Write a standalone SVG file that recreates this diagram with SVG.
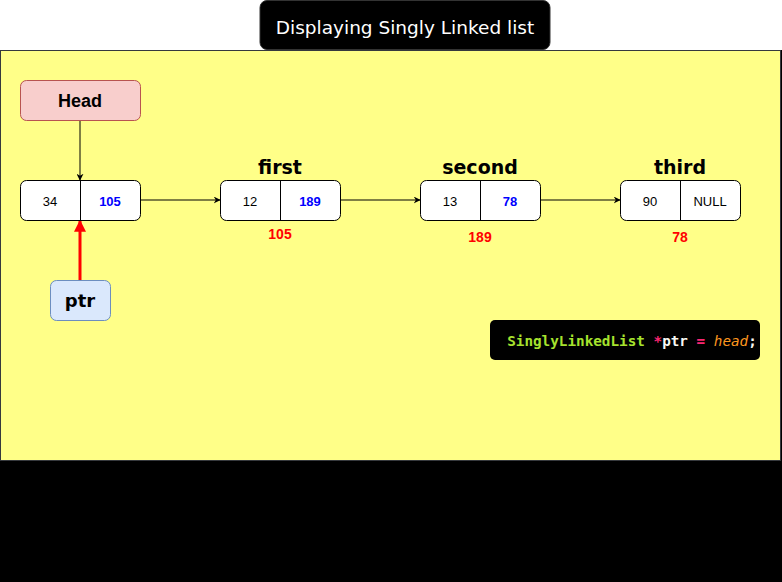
<svg xmlns="http://www.w3.org/2000/svg" width="782" height="582" viewBox="0 0 782 582">
  <defs>
    <marker id="arr" viewBox="0 0 10 10" refX="9" refY="5" markerWidth="7" markerHeight="7" markerUnits="userSpaceOnUse" orient="auto">
      <path d="M0,0 L10,5 L0,10 L3,5 Z" fill="#000"/>
    </marker>
    <marker id="arrRed" viewBox="0 0 10 10" refX="9" refY="5" markerWidth="12" markerHeight="12" markerUnits="userSpaceOnUse" orient="auto">
      <path d="M0,0 L10,5 L0,10 Z" fill="#ff0000"/>
    </marker>
    <style>
      .hand { font-family: "Comic Sans MS", "DejaVu Sans", sans-serif; font-weight: bold; }
      .cell { fill: #ffffff; stroke: #000000; stroke-width: 1; }
      .num { font-family: "Liberation Sans", Arial, sans-serif; font-size: 13px; text-anchor: middle; dominant-baseline: central; }
      .ptrv { fill: #0000ff; font-weight: bold; }
      .addr { font-family: "Liberation Sans", Arial, sans-serif; font-size: 14px; font-weight: bold; fill: #ff0000; text-anchor: middle; }
      .name { font-size: 19px; text-anchor: middle; fill: #000; }
      .link { stroke: #000; stroke-width: 1; fill: none; marker-end: url(#arr); }
    </style>
  </defs>

  <!-- page backdrop -->
  <rect x="0" y="0" width="782" height="582" fill="#000000"/>
  <rect x="0" y="0" width="782" height="50" fill="#ffffff"/>
  <rect x="0.5" y="50.5" width="780" height="410" fill="#ffff88" stroke="#36393d" stroke-width="1"/>

  <!-- title -->
  <g id="title">
    <rect x="260" y="0.5" width="290" height="49" rx="7" fill="#000000" stroke="#333" stroke-width="1"/>
    <text x="405" y="34" font-family="'Comic Sans MS', 'DejaVu Sans', sans-serif" font-size="18.5" fill="#ffffff" text-anchor="middle">Displaying Singly Linked list</text>
  </g>

  <!-- connectors -->
  <g id="connectors">
    <line class="link" x1="80" y1="120" x2="80" y2="180"/>
    <line class="link" x1="140" y1="200" x2="220" y2="200"/>
    <line class="link" x1="340" y1="200" x2="420" y2="200"/>
    <line class="link" x1="540" y1="200" x2="620" y2="200"/>
    <line x1="80" y1="280" x2="80" y2="221" stroke="#ff0000" stroke-width="3" marker-end="url(#arrRed)"/>
  </g>

  <!-- head pointer -->
  <g id="head">
    <rect x="20.5" y="80.5" width="120" height="40" rx="6" fill="#f8cecc" stroke="#b85450"/>
    <text x="80" y="107" font-family="Liberation Sans, Arial, sans-serif" font-size="18" font-weight="bold" text-anchor="middle">Head</text>
  </g>

  <!-- ptr pointer -->
  <g id="ptr">
    <rect x="50.5" y="280.5" width="60" height="40" rx="6" fill="#dae8fc" stroke="#6c8ebf"/>
    <text x="80" y="307" class="hand" font-size="18" text-anchor="middle">ptr</text>
  </g>

  <!-- node 1 -->
  <g id="node1">
    <rect class="cell" x="20.5" y="180.5" width="120" height="40" rx="6"/>
    <line x1="80.5" y1="180.5" x2="80.5" y2="220.5" stroke="#000"/>
    <text class="num" x="50" y="201">34</text>
    <text class="num ptrv" x="110" y="201">105</text>
  </g>

  <!-- node 2 -->
  <g id="node2">
    <text class="hand name" x="280" y="174">first</text>
    <rect class="cell" x="220.5" y="180.5" width="120" height="40" rx="6"/>
    <line x1="280.5" y1="180.5" x2="280.5" y2="220.5" stroke="#000"/>
    <text class="num" x="250" y="201">12</text>
    <text class="num ptrv" x="310" y="201">189</text>
    <text class="addr" x="280" y="239">105</text>
  </g>

  <!-- node 3 -->
  <g id="node3">
    <text class="hand name" x="480" y="174">second</text>
    <rect class="cell" x="420.5" y="180.5" width="120" height="40" rx="6"/>
    <line x1="480.5" y1="180.5" x2="480.5" y2="220.5" stroke="#000"/>
    <text class="num" x="450" y="201">13</text>
    <text class="num ptrv" x="510" y="201">78</text>
    <text class="addr" x="480" y="242">189</text>
  </g>

  <!-- node 4 -->
  <g id="node4">
    <text class="hand name" x="680" y="174">third</text>
    <rect class="cell" x="620.5" y="180.5" width="120" height="40" rx="6"/>
    <line x1="680.5" y1="180.5" x2="680.5" y2="220.5" stroke="#000"/>
    <text class="num" x="650" y="201">90</text>
    <text class="num" x="710" y="201">NULL</text>
    <text class="addr" x="680" y="242">78</text>
  </g>

  <!-- code snippet -->
  <g id="code">
    <rect x="490" y="320" width="270" height="40" rx="5" fill="#000000"/>
    <text x="632" y="346" font-family="DejaVu Sans Mono, Liberation Mono, monospace" font-size="14.3" font-weight="bold" text-anchor="middle" xml:space="preserve"><tspan fill="#a6e22e">SinglyLinkedList</tspan> <tspan fill="#f92672">*</tspan><tspan fill="#f8f8f2">ptr</tspan> <tspan fill="#f92672">=</tspan> <tspan fill="#fd971f" font-style="italic" font-weight="normal">head</tspan><tspan fill="#f8f8f2">;</tspan></text>
  </g>
</svg>
